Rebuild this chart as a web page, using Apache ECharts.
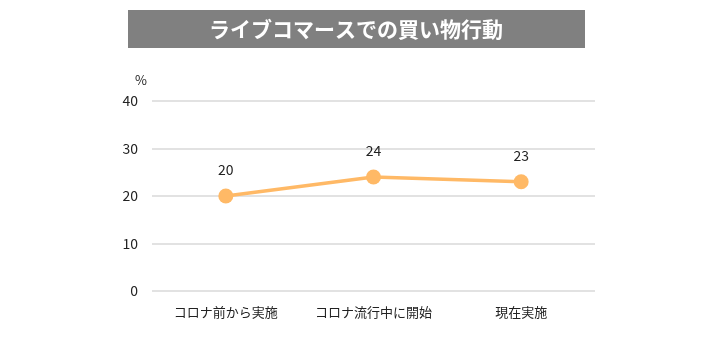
<!DOCTYPE html>
<html><head><meta charset="utf-8">
<script src="https://cdn.jsdelivr.net/npm/echarts@6/dist/echarts.min.js"></script>
<style>html,body{margin:0;padding:0;background:#fff}#c{width:720px;height:345px}</style>
</head><body><div id="c"></div>
<script>
const titleText = 'ライブコマースでの買い物行動';
const categories = ['コロナ前から実施', 'コロナ流行中に開始', '現在実施'];
const values = [20, 24, 23];
const yTicks = {min: 0, max: 40, interval: 10};
const unit = '%';

const font = '"Noto Sans CJK JP", "Noto Sans", sans-serif';
const chart = echarts.init(document.getElementById('c'), null, {renderer: 'canvas'});
chart.setOption({
  animation: false,
  graphic: [{
    type: 'rect', left: 128, top: 10, shape: {width: 457, height: 38},
    style: {fill: '#808080'}
  }, {
    type: 'text', x: 356, y: 29,
    style: {text: titleText, fill: '#fff', font: 'bold 21px ' + font, align: 'center', verticalAlign: 'middle'}
  }],
  grid: {left: 152, right: 125, top: 101, bottom: 54, containLabel: false},
  xAxis: {
    type: 'category', data: categories, boundaryGap: true,
    axisLine: {show: false}, axisTick: {show: false},
    axisLabel: {interval: 0, color: '#222', fontSize: 13, fontFamily: font, margin: 15}
  },
  yAxis: {
    type: 'value', min: yTicks.min, max: yTicks.max, interval: yTicks.interval,
    name: unit, nameGap: 14, nameTextStyle: {color: '#222', fontSize: 13, fontFamily: font, align: 'right', padding: [0, 5, 0, 0]},
    axisLine: {show: false}, axisTick: {show: false},
    axisLabel: {color: '#222', fontSize: 14, fontFamily: font, margin: 14},
    splitLine: {lineStyle: {color: '#d9d9d9', width: 1.5}}
  },
  series: [{
    type: 'line', data: values,
    symbol: 'circle', symbolSize: 15,
    lineStyle: {color: '#FFB966', width: 3.5},
    itemStyle: {color: '#FFB966'},
    label: {show: true, position: 'top', distance: 12, color: '#222', fontSize: 14, fontFamily: font}
  }]
});
</script></body></html>
